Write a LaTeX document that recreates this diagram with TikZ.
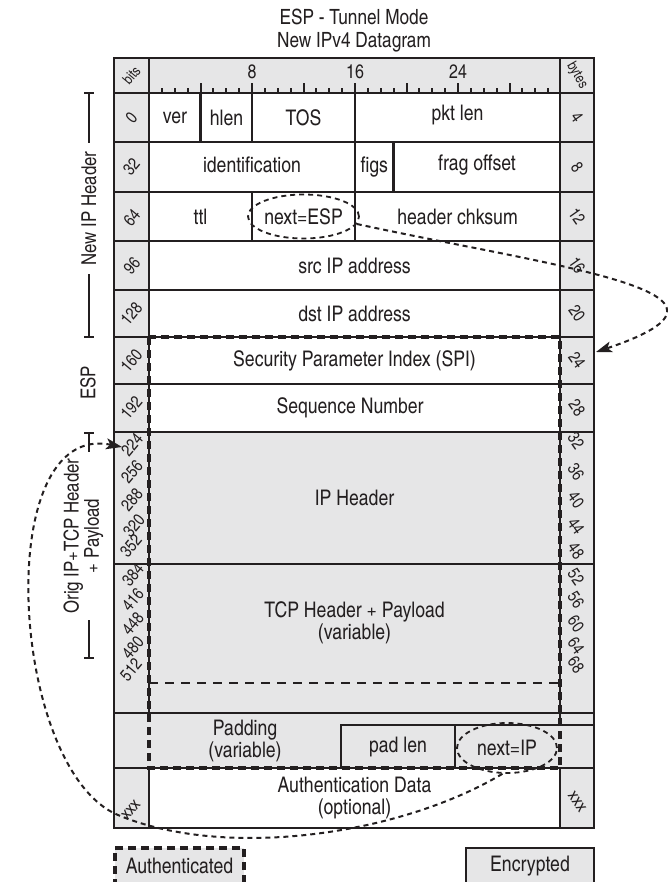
\documentclass[tikz,border=0pt]{standalone}
\usepackage{fontspec}
\setmainfont{texgyreheroscn-regular.otf}
\usetikzlibrary{arrows.meta,shapes.geometric}
\definecolor{fillgray}{HTML}{E6E6E7}
\definecolor{ink}{HTML}{231F20}
\begin{document}
\begin{tikzpicture}[x=1pt,y=1pt,
  tline/.style={draw=ink, line width=2.6pt},
  cell/.style={font=\fontsize{21.5}{22}\selectfont, text=ink, align=center, inner sep=0pt},
  side/.style={font=\fontsize{20.5}{18}\selectfont, text=ink, align=center, inner sep=0pt, rotate=90},
  lbl/.style={font=\fontsize{17}{16}\selectfont, text=ink, inner sep=0pt, rotate=50},
  rlbl/.style={font=\fontsize{17}{16}\selectfont, text=ink, inner sep=0pt, rotate=-55},
  rulernum/.style={font=\fontsize{19.5}{19}\selectfont, text=ink, inner sep=0pt},
  authbox/.style={draw=ink, line width=4pt, dash pattern=on 8pt off 5pt},
  ptr/.style={draw=ink, line width=2pt, dash pattern=on 5pt off 4pt},
  ptrell/.style={ellipse, draw=ink, line width=1.8pt, dash pattern=on 5pt off 4pt},
  tip/.style={-{Stealth[length=16pt,width=11pt,inset=4pt]}},
  bracket/.style={draw=ink, line width=2.4pt}
]
\useasboundingbox (0,0) rectangle (667,-882);

% title
\node[cell, font=\fontsize{21}{23}\selectfont] (title) at (354,-31) {ESP - Tunnel Mode\\New IPv4 Datagram};

% backgrounds
\fill[fillgray] (114,-58) rectangle (594,-828);
\fill[white] (149,-93) rectangle (560,-432);
\fill[white] (149,-768) rectangle (560,-828);

% grid lines
\draw[tline] (114,-58) rectangle (594,-828);
\foreach \yy in {93,142,192,241,290,337,384,432,564,713,768}
  \draw[tline] (114,-\yy) -- (594,-\yy);
\draw[tline] (149,-58) -- (149,-713);
\draw[tline] (149,-768) -- (149,-828);
\draw[tline] (560,-58) -- (560,-725);
\draw[tline] (560,-768) -- (560,-828);
% row 0
\draw[tline] (200.5,-93) -- (200.5,-142);
\draw[tline] (252,-93) -- (252,-142);
\draw[tline] (355,-93) -- (355,-142);
% row 32
\draw[tline] (355,-142) -- (355,-192);
\draw[tline] (393.6,-142) -- (393.6,-192);
% row 64
\draw[tline] (252,-192) -- (252,-241);
\draw[tline] (355,-192) -- (355,-241);
% padding row boxes
\draw[tline] (341,-768) -- (341,-725) -- (594,-725);
\draw[tline] (455,-725) -- (455,-768);

% ruler ticks
\foreach \b in {1,...,31}{
  \pgfmathsetmacro\hh{ifthenelse(mod(\b,4)==0,10,5)}
  \draw[ink, line width=2pt] ({149+12.875*\b},-93) -- ++(0,\hh);
}
\node[rulernum] (r8) at (252,-72) {8};
\node[rulernum] (r16) at (355,-72) {16};
\node[rulernum] (r24) at (458,-72) {24};
\node[lbl, font=\fontsize{14.5}{14}\selectfont] (bits) at (131.5,-75.5) {bits};
\node[rlbl, font=\fontsize{14.5}{14}\selectfont, rotate=-5] (bytes) at (577,-75.5) {bytes};

% left column bit labels
\node[lbl] (b0) at (131.5,-117.5) {0};
\node[lbl] (b32) at (131.5,-167) {32};
\node[lbl] (b64) at (132,-218) {64};
\node[lbl] (b96) at (132,-266) {96};
\node[lbl] (b128) at (131.5,-313.5) {128};
\node[lbl] (b160) at (131.5,-360.5) {160};
\node[lbl] (b192) at (131.5,-408) {192};
\node[lbl] (b224) at (132,-445) {224};
\node[lbl] (b256) at (132,-472) {256};
\node[lbl] (b288) at (132,-500) {288};
\node[lbl] (b320) at (134,-526) {320};
\node[lbl] (b352) at (131,-546) {352};
\node[lbl] (b384) at (133,-575) {384};
\node[lbl] (b416) at (133,-600) {416};
\node[lbl] (b448) at (133,-624) {448};
\node[lbl] (b480) at (133,-648) {480};
\node[lbl] (b512) at (131,-670) {512};
\node[lbl] (bx) at (131,-810) {xxx};

% right column byte labels
\node[rlbl] (y4) at (577,-117.5) {4};
\node[rlbl] (y8) at (577,-167) {8};
\node[rlbl] (y12) at (577,-216.5) {12};
\node[rlbl] (y16) at (577,-265.5) {16};
\node[rlbl] (y20) at (577,-313.5) {20};
\node[rlbl] (y24) at (577,-360.5) {24};
\node[rlbl] (y28) at (577,-408) {28};
\node[rlbl] (y32) at (576,-441) {32};
\node[rlbl] (y36) at (576,-472) {36};
\node[rlbl] (y40) at (576,-500) {40};
\node[rlbl] (y44) at (576,-526) {44};
\node[rlbl] (y48) at (576,-551) {48};
\node[rlbl] (y52) at (576,-577) {52};
\node[rlbl] (y56) at (576,-600) {56};
\node[rlbl] (y60) at (576,-624) {60};
\node[rlbl] (y64) at (576,-646) {64};
\node[rlbl] (y68) at (576,-665) {68};
\node[rlbl] (yx) at (577,-802) {xxx};

% cell texts
\node[cell] (ver) at (175,-117.5) {ver};
\node[cell] (hlen) at (226.5,-117.5) {hlen};
\node[cell] (tos) at (303.5,-117.5) {TOS};
\node[cell] (pktlen) at (457.5,-115.5) {pkt len};
\node[cell] (ident) at (252,-165) {identification};
\node[cell] (figs) at (374.3,-167) {figs};
\node[cell] (frag) at (477,-165) {frag offset};
\node[cell] (ttl) at (200.5,-216.5) {ttl};
\node[cell, ptrell, minimum width=98pt, minimum height=44pt] (espell) at (303.5,-216.5) {next=ESP};
\node[cell] (chk) at (457.5,-216.5) {header chksum};
\node[cell] (src) at (354.5,-265.5) {src IP address};
\node[cell] (dst) at (354.5,-313.5) {dst IP address};
\node[cell] (spi) at (354.5,-360.5) {Security Parameter Index (SPI)};
\node[cell] (seq) at (350,-408) {Sequence Number};
\node[cell] (iph) at (354.5,-498) {IP Header};
\node[cell] (tcp) at (354.5,-623) {TCP Header + Payload\\(variable)};
\node[cell] (pad) at (245,-740.5) {Padding\\(variable)};
\node[cell] (padlen) at (398,-746.5) {pad len};
\node[cell, ptrell, minimum width=100pt, minimum height=50pt] (ipell) at (507,-748) {next=IP};
\node[cell] (authdata) at (354.5,-798) {Authentication Data\\(optional)};

% authenticated region and payload end
\draw[authbox] (149,-337) rectangle (560,-768);
\draw[ink, line width=2.4pt, dash pattern=on 9pt off 7pt] (149,-683) -- (560,-683);

% side labels
\node[side] (newip) at (89,-208.5) {New IP Header};
\draw[bracket] (84,-93) -- (94,-93);
\draw[bracket] (89,-93) -- (89,-143);
\draw[bracket] (89,-274) -- (89,-337);
\draw[bracket] (84,-337) -- (94,-337);
\node[side] (esp) at (88,-383) {ESP};
\node[side] (orig) at (83.5,-536) {Orig IP+TCP Header\\+ Payload};
\draw[bracket] (84,-433) -- (94,-433);
\draw[bracket] (89,-433) -- (89,-452);
\draw[bracket] (89,-620) -- (89,-658);
\draw[bracket] (84,-658) -- (94,-658);

% pointers
\coordinate (spiin) at (596,-352);
\draw[ptr, tip] (espell.-8) .. controls (560,-268) and (775,-292) .. (spiin);
\coordinate (curvemid) at (118,-815);
\coordinate (origin) at (122,-447);
\draw[ptr, tip] (ipell.-100) .. controls (400,-835) and (226,-860) .. (curvemid)
   .. controls (10,-770) and (-10,-420) .. (origin);

% legend
\node[authbox, fill=fillgray, minimum width=129pt, minimum height=36pt, inner sep=0pt] (authleg) at (179.5,-866) {};
\node[cell] (authtext) at (authleg) {Authenticated};
\node[tline, fill=fillgray, minimum width=128pt, minimum height=36pt, inner sep=0pt] (encleg) at (530,-866) {};
\node[cell] (enctext) at (encleg) {Encrypted};
\end{tikzpicture}
\end{document}
